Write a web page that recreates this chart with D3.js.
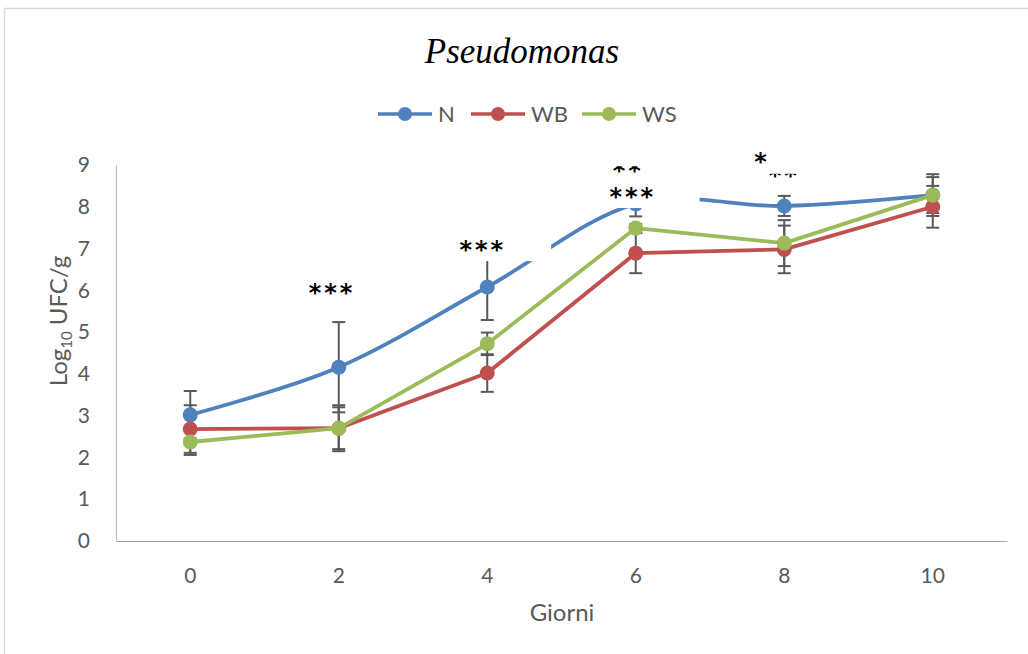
<!DOCTYPE html>
<html>
<head>
<meta charset="utf-8">
<script src="https://cdn.jsdelivr.net/npm/d3@7"></script>
<style>
  body { margin: 0; background: #fff; }
  svg { display: block; }
</style>
</head>
<body>
<div id="chart"></div>
<script>
// days on the x axis
let days = [0, 2, 4, 6, 8, 10];
let yTicks = [0, 1, 2, 3, 4, 5, 6, 7, 8, 9];

// mean log10 UFC/g and standard deviation
let nVals  = [3.02, 4.16, 6.08, 8.07, 8.02, 8.28];
let nErr   = [0.57, 1.08, 0.79, 0.30, 0.24, 0.50];
let wbVals = [2.68, 2.70, 4.02, 6.89, 6.98, 8.00];
let wbErr  = [0.57, 0.55, 0.45, 0.48, 0.57, 0.50];
let wsVals = [2.37, 2.70, 4.72, 7.49, 7.13, 8.28];
let wsErr  = [0.31, 0.50, 0.27, 0.10, 0.55, 0.43];

let seriesNames = ["N", "WB", "WS"];

// significance marks: label, day, level (log units)
let noteLabels = ["***", "***", "***", "*"];
let noteDays   = [1.91, 3.94, 5.96, 7.70];
let noteLevels = [6.06, 7.08, 8.35, 9.19];
// marks that are half hidden under the white text boxes
let cutLabels = ["**", "**"];
let cutDays   = [5.90, 8.00];
let cutLevels = [8.99, 8.86];

var W = 1028, H = 654;
var colors = {N: "#4f81bd", WB: "#c0504d", WS: "#9bbb59"};
var font = "Lato, 'Open Sans', sans-serif";
var grey = "#595959";

var svg = d3.select("#chart").append("svg")
  .attr("width", W).attr("height", H);

// chart area border
svg.append("rect")
  .attr("x", 4.5).attr("y", 8.5)
  .attr("width", W + 20).attr("height", H + 20)
  .attr("fill", "#fff")
  .attr("stroke", "#d9d9d9").attr("stroke-width", 1.5);

var x = d3.scaleBand().domain(days).range([116, 1007]).padding(0);
var bw = x.bandwidth();
var cx = function(d) { return x(d) + bw / 2; };
var dayX = d3.scaleLinear().domain([0, 10]).range([cx(0), cx(10)]);
var y = d3.scaleLinear().domain([0, 9]).range([541, 165]);

// axes
var xAxis = svg.append("g")
  .attr("transform", "translate(0," + y(0) + ")")
  .call(d3.axisBottom(x).tickSize(0).tickPadding(27));
xAxis.select(".domain").attr("stroke", "#a6a6a6").attr("stroke-width", 1.2);
xAxis.selectAll("text").attr("font-family", font).attr("font-size", 21).attr("fill", grey);

var yAxis = svg.append("g")
  .attr("transform", "translate(116,0)")
  .call(d3.axisLeft(y).tickValues(yTicks).tickSize(0).tickPadding(26));
yAxis.select(".domain").attr("stroke", "#bfbfbf").attr("stroke-width", 1.2);
yAxis.selectAll("text").attr("font-family", font).attr("font-size", 21).attr("fill", grey);

// axis titles
var yt = svg.append("text")
  .attr("transform", "translate(67,321) rotate(-90)")
  .attr("text-anchor", "middle")
  .attr("font-family", font).attr("font-size", 24).attr("fill", grey);
yt.append("tspan").text("Log");
yt.append("tspan").attr("font-size", 15).attr("dy", 5).text("10");
yt.append("tspan").attr("dy", -5).text(" UFC/g");

svg.append("text")
  .attr("x", 562).attr("y", 621)
  .attr("text-anchor", "middle")
  .attr("font-family", font).attr("font-size", 24).attr("fill", grey)
  .text("Giorni");

// title
svg.append("text")
  .attr("x", 522).attr("y", 63)
  .attr("text-anchor", "middle")
  .attr("font-family", "'Liberation Serif', 'Times New Roman', serif")
  .attr("font-style", "italic").attr("font-size", 35).attr("fill", "#000")
  .text("Pseudomonas");

// legend
var legendX = [405, 498, 609];
var leg = svg.append("g").selectAll("g")
  .data(seriesNames).enter().append("g")
  .attr("transform", function(d, i) { return "translate(" + legendX[i] + ",114)"; });
leg.append("line")
  .attr("x1", -27).attr("x2", 27)
  .attr("stroke", function(d) { return colors[d]; })
  .attr("stroke-width", 3.5);
leg.append("circle").attr("r", 7)
  .attr("fill", function(d) { return colors[d]; });
leg.append("text")
  .attr("x", 33).attr("y", 8)
  .attr("font-family", font).attr("font-size", 22).attr("fill", grey)
  .text(function(d) { return d; });

// build series table
var table = [
  {name: "N",  curve: d3.curveCatmullRom.alpha(0), pts: days.map(function(d, i) { return {day: d, v: nVals[i],  e: nErr[i]}; })},
  {name: "WB", curve: d3.curveLinear,              pts: days.map(function(d, i) { return {day: d, v: wbVals[i], e: wbErr[i]}; })},
  {name: "WS", curve: d3.curveLinear,              pts: days.map(function(d, i) { return {day: d, v: wsVals[i], e: wsErr[i]}; })}
];

// error bars first
var eb = svg.append("g");
table.forEach(function(s) {
  var g = eb.selectAll(null).data(s.pts).enter().append("g")
    .attr("stroke", grey).attr("stroke-width", 2);
  g.append("line")
    .attr("x1", function(d) { return cx(d.day); }).attr("x2", function(d) { return cx(d.day); })
    .attr("y1", function(d) { return y(d.v - d.e); }).attr("y2", function(d) { return y(d.v + d.e); });
  [-1, 1].forEach(function(sgn) {
    g.append("line")
      .attr("x1", function(d) { return cx(d.day) - 6.5; }).attr("x2", function(d) { return cx(d.day) + 6.5; })
      .attr("y1", function(d) { return y(d.v + sgn * d.e); }).attr("y2", function(d) { return y(d.v + sgn * d.e); });
  });
});

// lines and markers
table.forEach(function(s) {
  var line = d3.line()
    .x(function(d) { return cx(d.day); })
    .y(function(d) { return y(d.v); })
    .curve(s.curve);
  svg.append("path").datum(s.pts)
    .attr("d", line)
    .attr("fill", "none")
    .attr("stroke", colors[s.name]).attr("stroke-width", 3.8)
    .attr("stroke-linejoin", "round");
  svg.append("g").selectAll("circle").data(s.pts).enter().append("circle")
    .attr("cx", function(d) { return cx(d.day); })
    .attr("cy", function(d) { return y(d.v); })
    .attr("r", 7.5)
    .attr("fill", colors[s.name]);
});

// asterisks that are partly hidden
var starFont = "'DejaVu Sans', sans-serif";
svg.append("g").selectAll("text").data(cutLabels).enter().append("text")
  .attr("x", function(d, i) { return dayX(cutDays[i]); })
  .attr("y", function(d, i) { return y(cutLevels[i]); })
  .attr("dy", "0.55em")
  .attr("text-anchor", "middle")
  .attr("font-family", starFont).attr("font-size", 24).attr("font-weight", "bold")
  .attr("letter-spacing", 3)
  .attr("fill", "#000")
  .text(function(d) { return d; });

// white text boxes sitting over the plot (in day / level units)
var boxes = [
  {d0: 3.56, d1: 4.86, v0: 6.70, v1: 7.56},
  {d0: 4.98, d1: 6.86, v0: 7.97, v1: 8.60},
  {d0: 5.52, d1: 6.32, v0: 8.97, v1: 9.70},
  {d0: 7.75, d1: 8.21, v0: 8.79, v1: 9.70}
];
svg.append("g").selectAll("rect").data(boxes).enter().append("rect")
  .attr("x", function(b) { return dayX(b.d0); })
  .attr("width", function(b) { return dayX(b.d1) - dayX(b.d0); })
  .attr("y", function(b) { return y(b.v1); })
  .attr("height", function(b) { return y(b.v0) - y(b.v1); })
  .attr("fill", "#fff");

svg.append("g").selectAll("text").data(noteLabels).enter().append("text")
  .attr("x", function(d, i) { return dayX(noteDays[i]); })
  .attr("y", function(d, i) { return y(noteLevels[i]); })
  .attr("dy", "0.55em")
  .attr("text-anchor", "middle")
  .attr("font-family", starFont).attr("font-size", 24).attr("font-weight", "bold")
  .attr("letter-spacing", 3)
  .attr("fill", "#000")
  .text(function(d) { return d; });
</script>
</body>
</html>
